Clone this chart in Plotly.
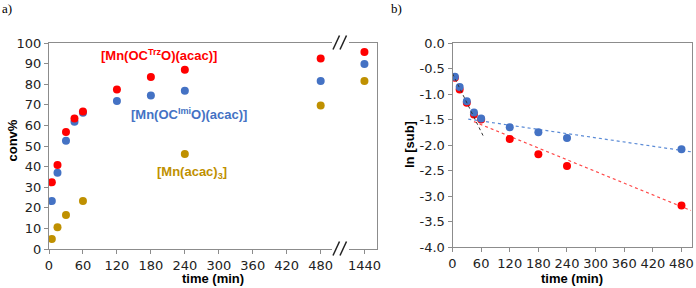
import plotly.graph_objects as go

W, H = 696, 288

# ---------------- data: panel a) ----------------
time_a = [5, 15, 30, 45, 60, 120, 180, 240, 480, 1440]
conv_trz = [32.4, 40.8, 56.8, 63.4, 66.8, 77.4, 83.5, 87.0, 92.5, 95.6]
conv_imi = [23.3, 37.0, 52.6, 61.8, 66.2, 71.8, 74.5, 76.8, 81.6, 89.8]
time_acac = [5, 15, 30, 60, 240, 480, 1440]
conv_acac = [4.9, 10.5, 16.5, 23.3, 46.1, 69.6, 81.5]
x_ticks_a = [0, 60, 120, 180, 240, 300, 360, 420, 480]
y_ticks_a = [0, 10, 20, 30, 40, 50, 60, 70, 80, 90, 100]

# ---------------- data: panel b) ----------------
time_b = [5, 15, 30, 45, 60, 120, 180, 240, 480]
ln_trz = [-0.68, -0.91, -1.17, -1.40, -1.50, -1.88, -2.18, -2.41, -3.18]
ln_imi = [-0.66, -0.86, -1.14, -1.36, -1.48, -1.65, -1.745, -1.86, -2.08]
trend_early_t = [0, 66]
trend_early_v = [-0.60, -1.85]
trend_trz_t = [45, 500]
trend_trz_v = [-1.54, -3.28]
trend_imi_t = [33, 500]
trend_imi_v = [-1.49, -2.13]
x_ticks_b = [0, 60, 120, 180, 240, 300, 360, 420, 480]
y_ticks_b = [0.0, -0.5, -1.0, -1.5, -2.0, -2.5, -3.0, -3.5, -4.0]
y_ticktext_b = ["0.0", "-0.5", "-1.0", "-1.5", "-2.0", "-2.5", "-3.0", "-3.5", "-4.0"]

RED = "#FF0000"
BLUE = "#4472C4"
GOLD = "#BF9000"
AXC = "#8C8C8C"
FONT = "Liberation Sans, Arial, sans-serif"
TICKFONT = "DejaVu Sans, Verdana, sans-serif"


def px(x):
    return x / W


def py(y):
    return 1 - y / H


fig = go.Figure()

BREAK = 1000


def add_series(t, v, color):
    main_t = [a for a in t if a <= BREAK]
    main_v = [b for a, b in zip(t, v) if a <= BREAK]
    brk_t = [a for a in t if a > BREAK]
    brk_v = [b for a, b in zip(t, v) if a > BREAK]
    fig.add_trace(go.Scatter(x=main_t, y=main_v, mode="markers",
                             marker=dict(color=color, size=8), xaxis="x", yaxis="y",
                             showlegend=False))
    fig.add_trace(go.Scatter(x=brk_t, y=brk_v, mode="markers",
                             marker=dict(color=color, size=8), xaxis="x2", yaxis="y2",
                             showlegend=False))


add_series(time_acac, conv_acac, GOLD)
add_series(time_a, conv_imi, BLUE)
add_series(time_a, conv_trz, RED)

# panel b
fig.add_trace(go.Scatter(x=trend_trz_t, y=trend_trz_v, mode="lines",
                         line=dict(color="#FF4A4A", width=1.2, dash="dot"),
                         xaxis="x3", yaxis="y3", showlegend=False))
fig.add_trace(go.Scatter(x=trend_imi_t, y=trend_imi_v, mode="lines",
                         line=dict(color="#5B8BD6", width=1.2, dash="dot"),
                         xaxis="x3", yaxis="y3", showlegend=False))
fig.add_trace(go.Scatter(x=time_b, y=ln_trz, mode="markers",
                         marker=dict(color=RED, size=8), xaxis="x3", yaxis="y3",
                         showlegend=False))
fig.add_trace(go.Scatter(x=time_b, y=ln_imi, mode="markers",
                         marker=dict(color=BLUE, size=8), xaxis="x3", yaxis="y3",
                         showlegend=False))
fig.add_trace(go.Scatter(x=trend_early_t, y=trend_early_v, mode="lines",
                         line=dict(color="#333333", width=1.0, dash="dot"),
                         xaxis="x3", yaxis="y3", showlegend=False))

tickfont = dict(family=TICKFONT, size=13, color="#222222")
common = dict(showgrid=False, zeroline=False, showline=True, linecolor=AXC,
              linewidth=1, ticks="outside", tickcolor=AXC, ticklen=4,
              tickfont=tickfont)

ya_dom = [py(249), py(43)]
yb_dom = [py(247.3), py(43)]

fig.update_layout(
    width=W, height=H,
    margin=dict(l=0, r=0, t=0, b=0, pad=0, autoexpand=False),
    showlegend=False,
    paper_bgcolor="white", plot_bgcolor="white",
    xaxis=dict(domain=[px(49), px(332)], anchor="y", range=[0, 500],
               tickvals=x_ticks_a, mirror=True, **common),
    yaxis=dict(domain=ya_dom, anchor="x", range=[0, 100],
               tickvals=y_ticks_a, mirror=False, **common),
    xaxis2=dict(domain=[px(349), px(377)], anchor="y2", range=[1413, 1462],
                tickvals=[1440], mirror=True, **common),
    yaxis2=dict(domain=ya_dom, anchor="x2", range=[0, 100], side="right",
                showgrid=False, zeroline=False, showline=True, linecolor=AXC,
                linewidth=1, ticks="", showticklabels=False),
    xaxis3=dict(domain=[px(452.5), px(691.5)], anchor="y3", range=[0, 501],
                tickvals=x_ticks_b, mirror=True, **common),
    yaxis3=dict(domain=yb_dom, anchor="x3", range=[-4, 0],
                tickvals=y_ticks_b, ticktext=y_ticktext_b, mirror=True, **common),
)

# break marks
shapes = []
for yb in (42.5, 248.5):
    for x0 in (333.0, 340.0):
        shapes.append(dict(type="line", xref="paper", yref="paper",
                           x0=px(x0), y0=py(yb + 7), x1=px(x0 + 6.5), y1=py(yb - 7),
                           line=dict(color="#222222", width=1.5)))
fig.update_layout(shapes=shapes)

ann = []
lab = dict(family=FONT, size=13)
C = dict(showarrow=False, xanchor="center", yanchor="middle")
ann.append(dict(text="<b>[Mn(OC<sup>Trz</sup>O)(acac)]</b>", x=194, y=94.2,
                xref="x", yref="y", font=dict(color=RED, **lab), **C))
ann.append(dict(text="<b>[Mn(OC<sup>Imi</sup>O)(acac)]</b>", x=248, y=65.4,
                xref="x", yref="y", font=dict(color=BLUE, **lab), **C))
ann.append(dict(text="<b>[Mn(acac)<sub>3</sub>]</b>", x=252, y=36.9,
                xref="x", yref="y", font=dict(color=GOLD, **lab), **C))
ann.append(dict(text="<b>conv%</b>", x=px(12.5), y=py(141), xref="paper", yref="paper",
                textangle=-90, font=dict(color="#000000", **lab), **C))
ann.append(dict(text="<b>time (min)</b>", x=px(212.5), y=py(278), xref="paper", yref="paper",
                font=dict(color="#000000", **lab), **C))
ann.append(dict(text="<b>ln [sub]</b>", x=px(409), y=py(145), xref="paper", yref="paper",
                textangle=-90, font=dict(color="#000000", **lab), **C))
ann.append(dict(text="<b>time (min)</b>", x=px(571.5), y=py(278), xref="paper", yref="paper",
                font=dict(color="#000000", **lab), **C))
serif = dict(family="Liberation Serif, Times New Roman, serif", size=13, color="#000000")
ann.append(dict(text="a)", x=px(7), y=py(8.5), xref="paper", yref="paper", font=serif, **C))
ann.append(dict(text="b)", x=px(396), y=py(8.5), xref="paper", yref="paper", font=serif, **C))
fig.update_layout(annotations=ann)

fig.write_html(
    "out.html",
    config={"displayModeBar": False},
    post_script="document.documentElement.style.margin='0';"
                "document.body.style.margin='0';document.body.style.padding='0';"
                "document.body.style.overflow='hidden';",
)
